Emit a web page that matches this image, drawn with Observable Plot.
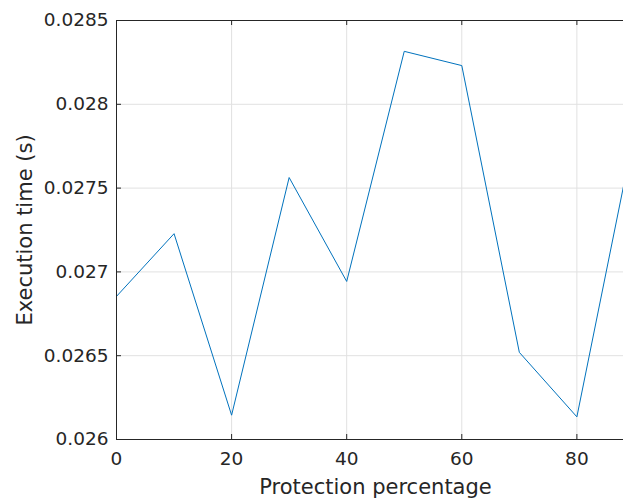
<!DOCTYPE html>
<html>
<head>
<meta charset="utf-8">
<script src="https://cdn.jsdelivr.net/npm/d3@7"></script>
<script src="https://cdn.jsdelivr.net/npm/@observablehq/plot@0.6"></script>
<style>
  html, body { margin: 0; padding: 0; background: #fff; }
  #chart svg { display: block; }
</style>
</head>
<body>
<div id="chart"></div>
<script>
// Data
const protection = [0, 10, 20, 30, 40, 50, 60, 70, 80, 90];
const execTime = [0.026854, 0.027228, 0.026145, 0.027563, 0.026943, 0.028316, 0.028231, 0.02652, 0.026135, 0.027834];
const xTicks = [0, 20, 40, 60, 80];
const yTicks = [0.026, 0.0265, 0.027, 0.0275, 0.028, 0.0285];
const xDomain = [0, 88.1];
const yDomain = [0.026, 0.0285];
const xLabel = "Protection percentage";
const yLabel = "Execution time (s)";

const W = 623, H = 498;
const mL = 116, mR = 0, mT = 20, mB = 59;
const plotW = W - mL - mR, plotH = H - mT - mB;
const axisColor = "#262626";
const gridColor = "#e1e1e1";
const tickLen = 5;

const data = protection.map((p, i) => ({p, t: execTime[i]}));

const chart = Plot.plot({
  width: W,
  height: H,
  marginLeft: mL,
  marginRight: mR,
  marginTop: mT,
  marginBottom: mB,
  style: {fontFamily: "DejaVu Sans", fontSize: "18px", color: axisColor, background: "#fff"},
  x: {domain: xDomain},
  y: {domain: yDomain},
  marks: [
    Plot.gridX(xTicks, {stroke: gridColor, strokeOpacity: 1}),
    Plot.gridY(yTicks, {stroke: gridColor, strokeOpacity: 1}),
    Plot.line(data, {x: "p", y: "t", stroke: "#0072BD", strokeWidth: 1, clip: true}),
    // box (left, top, bottom)
    Plot.ruleY(yDomain, {stroke: axisColor, strokeWidth: 1}),
    Plot.ruleX([xDomain[0]], {stroke: axisColor, strokeWidth: 1}),
    // inward ticks
    Plot.tickX(xTicks, {x: d => d, stroke: axisColor, insetTop: plotH - tickLen}),
    Plot.tickX(xTicks, {x: d => d, stroke: axisColor, insetBottom: plotH - tickLen}),
    Plot.tickY(yTicks, {y: d => d, stroke: axisColor, insetRight: plotW - tickLen}),
    Plot.axisX(xTicks, {tickSize: 0, tickPadding: 12, label: null, fontSize: 18.5, fill: axisColor}),
    Plot.axisY(yTicks, {tickSize: 0, tickPadding: 8, label: null, fontSize: 18.5, fill: axisColor,
      tickFormat: d => String(+d.toFixed(4))}),
    Plot.text([xLabel], {text: d => d, frameAnchor: "bottom", textAnchor: "middle", dx: 5.5, dy: 54,
      lineAnchor: "bottom", fontSize: 21, fill: axisColor}),
    Plot.text([yLabel], {text: d => d, frameAnchor: "left", textAnchor: "middle", dx: -85, rotate: -90,
      lineAnchor: "bottom", fontSize: 21, fill: axisColor})
  ]
});
document.getElementById("chart").appendChild(chart);
</script>
</body>
</html>
